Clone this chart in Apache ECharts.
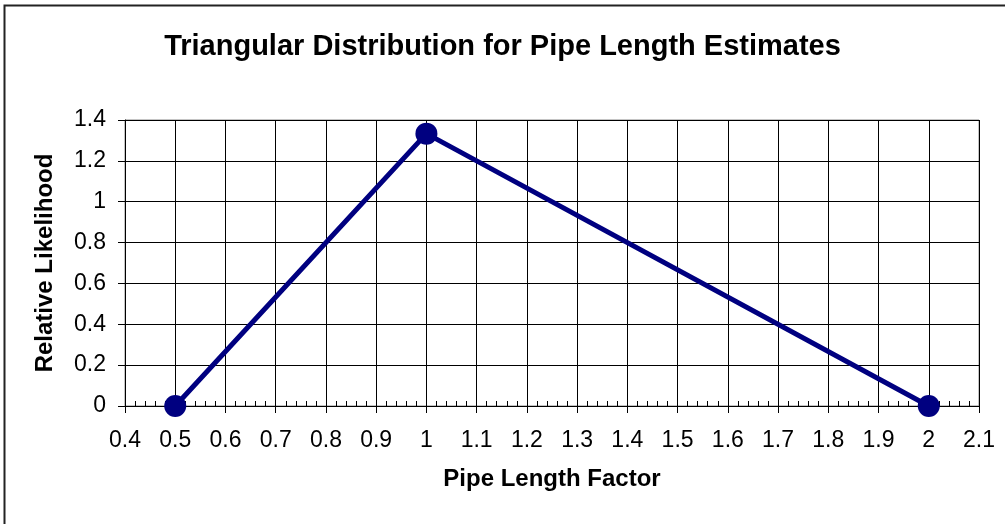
<!DOCTYPE html>
<html>
<head>
<meta charset="utf-8">
<script src="https://cdn.jsdelivr.net/npm/echarts@6/dist/echarts.min.js"></script>
<style>
  html, body { margin: 0; padding: 0; background: #fff; }
  #chart { width: 1005px; height: 524px; }
</style>
</head>
<body>
<div id="chart"></div>
<script>
// triangular distribution: min 0.5, mode 1, max 2
const pipeFactor = [0.5, 1, 2]
const likelihood = [0, 1.3333, 0]

const xTicks = { min: 0.4, max: 2.1, step: 0.1 }
const yTicks = { min: 0, max: 1.4, step: 0.2 }

const points = pipeFactor.map((x, i) => [x, likelihood[i]])

const chart = echarts.init(document.getElementById('chart'))
const font = 'Liberation Sans, Arial, sans-serif'

chart.setOption({
  animation: false,
  backgroundColor: '#fff',
  title: {
    text: 'Triangular Distribution for Pipe Length Estimates',
    left: 'center',
    top: 27,
    textStyle: { fontFamily: font, fontSize: 29, fontWeight: 'bold', color: '#000' },
  },
  graphic: [
    {
      type: 'rect',
      shape: { x: 4.5, y: 5.5, width: 1010, height: 530 },
      style: { fill: 'none', stroke: '#222', lineWidth: 2 },
      silent: true,
    },
  ],
  grid: {
    left: 125, right: 26, top: 120, bottom: 118,
    show: true, borderColor: '#888', borderWidth: 1, backgroundColor: 'transparent',
  },
  xAxis: {
    type: 'value',
    min: xTicks.min,
    max: xTicks.max,
    interval: xTicks.step,
    name: 'Pipe Length Factor',
    nameLocation: 'middle',
    nameGap: 61,
    nameTextStyle: { fontFamily: font, fontSize: 24, fontWeight: 'bold', color: '#000' },
    axisLine: { lineStyle: { color: '#000', width: 1 } },
    axisTick: { show: true, inside: false, length: 7, lineStyle: { color: '#000' } },
    minorTick: { show: true, splitNumber: 5, length: -5, lineStyle: { color: '#000' } },
    axisLabel: { fontFamily: font, fontSize: 23, color: '#000', margin: 23 },
    splitLine: { show: true, lineStyle: { color: '#000', width: 1 } },
  },
  yAxis: {
    type: 'value',
    min: yTicks.min,
    max: yTicks.max,
    interval: yTicks.step,
    name: 'Relative Likelihood',
    nameLocation: 'middle',
    nameGap: 68,
    nameTextStyle: { fontFamily: font, fontSize: 24, fontWeight: 'bold', color: '#000' },
    axisLine: { show: true, lineStyle: { color: '#000', width: 1 } },
    axisTick: { show: true, inside: false, length: 7, lineStyle: { color: '#000' } },
    axisLabel: { fontFamily: font, fontSize: 23, color: '#000', margin: 19 },
    splitLine: { show: true, lineStyle: { color: '#000', width: 1 } },
  },
  series: [
    {
      type: 'line',
      data: points,
      symbol: 'circle',
      symbolSize: 22,
      lineStyle: { color: '#000080', width: 5 },
      itemStyle: { color: '#000080' },
      z: 5,
    },
  ],
})
</script>
</body>
</html>
